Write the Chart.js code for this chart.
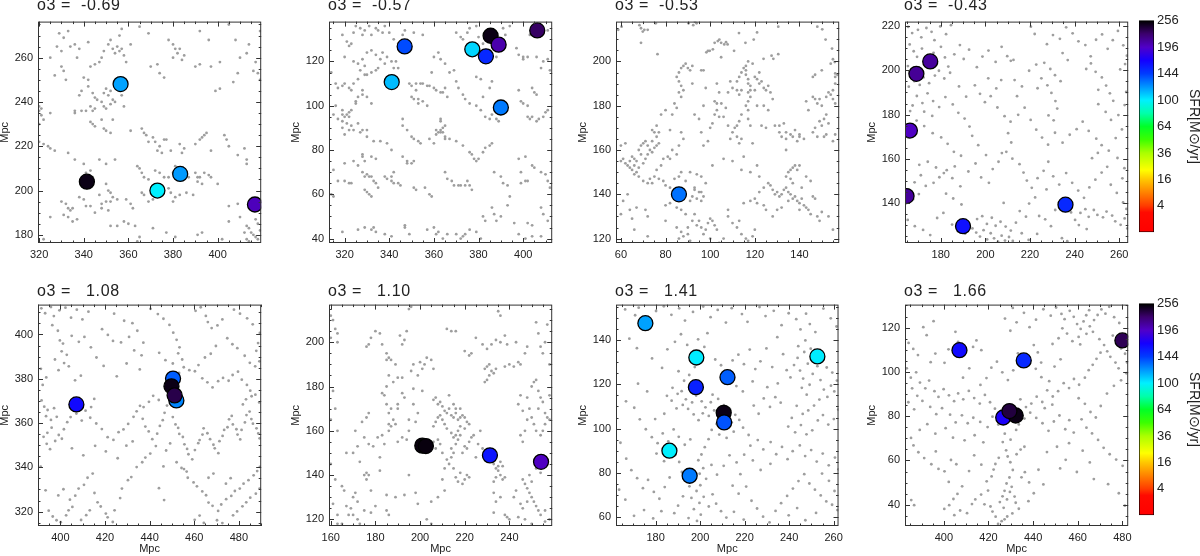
<!DOCTYPE html>
<html>
<head>
<meta charset="utf-8">
<script src="https://cdn.jsdelivr.net/npm/chart.js@4.4.1/dist/chart.umd.min.js"></script>
<style>
  body { margin: 0; background: #fff; width: 1200px; height: 556px; overflow: hidden; position: relative; }
  .box { position: absolute; }
  .ttl { position: absolute; font: 16px "Liberation Sans", Arial, sans-serif; letter-spacing: 0.6px; color: #222; white-space: pre; line-height: 16px; }
</style>
</head>
<body>
<script>
// panel labels and axis windows (Mpc)
const o3Labels = ['o3 =  -0.69', 'o3 =  -0.57', 'o3 =  -0.53', 'o3 =  -0.43', 'o3 =   1.08', 'o3 =   1.10', 'o3 =   1.41', 'o3 =   1.66'];
const xMins = [319.5, 313, 57.8, 164, 390, 159.2, 162.2, 382.6];
const yMins = [176.3, 38, 118, 122, 313.5, 117, 56, 30.4];
const xTicks = [
  [320, 340, 360, 380, 400], [320, 340, 360, 380, 400], [60, 80, 100, 120, 140], [180, 200, 220, 240, 260],
  [400, 420, 440, 460, 480], [160, 180, 200, 220, 240], [180, 200, 220, 240, 260], [400, 420, 440, 460, 480]
];
const yTicks = [
  [180, 200, 220, 240, 260], [40, 60, 80, 100, 120], [120, 140, 160, 180, 200], [140, 160, 180, 200, 220],
  [320, 340, 360, 380, 400], [120, 140, 160, 180, 200], [60, 80, 100, 120, 140], [40, 60, 80, 100, 120]
];
const sfrTicks = [4, 16, 36, 64, 100, 144, 196, 256];

// big galaxies (x, y) and their SFR
const gal1 = [[356.5,248.1],[341.4,204],[373,200],[383.2,207.5],[416.7,193.7]];
const sfr1 = [118, 250, 100, 120, 200];
const gal2 = [[346.9,126.8],[341.1,110.7],[377.2,125.5],[383.3,122.3],[385.4,131.6],[389,127.6],[406.3,134],[390,99.2]];
const sfr2 = [140, 112, 106, 152, 250, 205, 228, 128];
const gal3 = [[86,140]];
const sfr3 = [130];
const gal4 = [[175.3,204],[169.1,198.4],[166.2,172.8],[164.7,143.2],[190,129.6],[235.9,139.3]];
const sfr4 = [210, 212, 198, 210, 162, 152];
const gal5 = [[407.2,368.4],[450.5,380.1],[449.8,376.6],[452,370.2],[451.2,372.5]];
const sfr5 = [165, 135, 250, 125, 235];
const gal6 = [[201,153.3],[202.6,153.1],[231.3,148.9],[254.2,146]];
const sfr6 = [252, 252, 160, 198];
const gal7 = [[175.4,147.6],[198.3,132.1],[252.7,132.6],[212.3,123.2],[198.1,118.7],[210.6,107.1],[210.8,102.8],[186.2,90],[195.3,78.7]];
const sfr7 = [118, 101, 101, 135, 155, 250, 138, 100, 128];
const gal8 = [[407,109.8],[435.8,105.2],[480,114.2],[426.6,79.4],[432.2,80.3],[429.4,82.3]];
const sfr8 = [165, 152, 232, 172, 250, 238];

// small neighbour galaxies (x, y)
const gray1 = [[329,271],[331,269],[333,272],[328,265],[330,263],[334,265],[336,266],[338,264],[342,267],[325,260],[337,260],[351,266],[352,268],[353,264],[354,262],[355,265],[356,263],[357,264],[358,261],[349,263],[348,260],[357,273],[356,270],[359,258],[361,266],[365,274],[369,271],[378,268],[380,266],[381,264],[383,264],[382,262],[385,261],[384,259],[380,260],[392,272],[396,268],[392,257],[390,256],[397,256],[401,258],[405,275],[408,268],[410,260],[413,262],[414,266],[417,258],[419,272],[409,253],[416,254],[418,253],[419,250],[407,249],[401,246],[399,245],[373,257],[370,256],[374,253],[376,251],
[330,256],[331,254],[332,250],[327,252],[340,251],[342,250],[343,256],[345,257],[347,258],[339,245],[338,243],[342,247],[344,244],[345,242],[346,241],[348,240],[349,244],[350,246],[351,243],[352,245],[353,241],[349,238],[350,237],[352,239],[354,240],[345,237],[344,236],[343,238],[356,245],[357,243],[358,238],[336,235],
[320,238],[321,237],[320,236],[321,234],[322,232],[320,230],[325,235],[336,236],[339,236],[341,236],[343,231],[344,230],[345,229],[348,232],[349,228],[350,227],[352,226],[353,232],
[320,222],[322,221],[324,220],[325,219],[327,218],[333,217],[336,214],[340,212],[341,208],[342,207],[343,209],[344,206],
[361,227],[366,228],[367,226],[368,225],[369,222],[371,224],[372,222],[374,220],[373,218],[375,217],[376,223],[377,223],[379,218],[383,221],[384,217],[385,219],[390,221],[392,223],[393,224],[394,225],[395,226],[397,218],[403,225],[404,223],[405,220],[409,216],[412,219],[413,214],[413,212],
[347,214],[350,212],[354,214],[364,211],[365,210],[366,208],[367,206],[369,205],[372,209],[374,208],[376,206],[378,206],[380,208],[381,211],[382,209],[384,210],[386,207],[387,206],[390,208],[391,206],[392,206],[394,208],[396,207],[397,206],[391,204],[393,203],[400,203],
[350,203],[351,200],[352,199],[353,197],[352,195],[350,195],[347,198],[348,194],[355,196],[359,196],[361,194],[362,192],[366,199],[367,198],[369,195],[371,196],[378,201],[379,199],[381,197],[383,198],[380,195],[386,199],[389,198],[405,193],[330,195],[332,194],[333,192],[334,191],[335,192],[338,197],[340,196],[341,193],[343,193],[331,189],[333,188],[335,186],[337,187],[325,188],[345,190],[348,192],[351,191],
[358,186],[360,185],[363,184],[371,183],[377,181],[381,179],[391,180],[393,181],[405,186],[409,194],[410,188],[413,184],[414,183],[415,181],[416,180],[417,179],[418,178],[419,182],[418,185],[417,187],[412,181],[413,178],[414,177],[415,176],[319,180],[322,178],[352,184],[355,184],[364,177],[365,179],[402,178]];

const gray2 = [[319,132],[321,129],[322,127],[323,128],[324,133],[325,136],[327,135],[328,132],[329,134],[331,136],[332,132],[334,135],[335,134],[337,133],[338,136],[340,133],[342,130],[344,128],[346,132],[347,134],[351,133],[355,132],
[320,122],[324,120],[326,119],[328,121],[329,118],[330,124],[332,125],[334,123],[336,121],[337,124],[338,119],[339,122],[341,120],[342,117],[343,120],[344,117],
[314,115],[316,110],[317,108],[319,109],[320,110],[322,108],[323,107],[324,110],[326,112],[327,116],[329,114],[330,114],[332,115],[334,116],[335,117],
[319,98],[319,96],[320,95],[321,96],[322,97],[322,95],[323,98],[325,101],[325,102],[326,104],[328,105],[328,107],[330,104],[332,101],
[316,100],[315,96],[317,94],[319,93],[321,92],[323,91],[324,89],[326,92],[328,89],[330,89],
[349,110],[350,109],[352,107],[352,110],[354,110],[355,110],[357,109],[358,109],[360,108],[361,107],[363,106],[364,106],[365,108],[366,104],
[350,104],[351,103],[353,101],[353,103],[355,102],[357,100],
[370,111],[371,108],[373,105],[374,103],[376,101],[379,100],[381,98],[383,95],[385,94],[386,96],[388,94],[389,93],[382,104],[385,108],[386,111],[381,112],[379,113],
[398,107],[399,102],[400,101],[402,100],[402,95],[403,94],[404,95],[406,93],[407,94],[409,95],[410,97],[411,98],[404,108],[405,106],[406,105],[408,117],[409,120],[411,121],[412,116],[406,122],[402,122],[400,121],
[370,133],[372,131],[373,130],[375,133],[376,135],[379,136],[380,131],[382,128],[385,125],[388,122],[392,132],[397,126],[398,123],[400,122],[403,132],[406,134],[408,136],[411,134],[394,136],[391,135],
[360,122],[362,124],[363,121],[359,115],[365,119],[369,116],[367,115],
[319,90],[320,87],[322,89],[327,88],[330,86],[333,84],[332,77],[334,76],[336,84],[339,83],[341,80],[346,94],[346,91],[348,89],[350,86],[351,85],[353,84],[354,83],[358,85],[360,83],[361,87],[363,89],[363,88],[365,85],
[361,89],[362,88],[364,88],[364,90],[365,86],[367,85],[370,84],[373,82],[376,79],[377,78],[378,76],[379,75],[380,76],[382,79],[383,81],[385,82],[386,83],
[346,77],[348,75],[348,74],[350,74],[351,75],[328,78],[328,77],[329,75],[330,69],[331,68],
[320,66],[322,65],[323,65],[328,70],[329,68],[332,68],[333,66],[334,65],[335,63],[338,68],[339,67],[341,66],[342,65],[344,65],[345,64],[341,68],[342,70],
[314,60],[315,59],[329,62],[330,61],[331,60],[332,59],
[351,63],[352,62],[356,63],[358,60],[359,59],[365,70],[366,67],[368,66],[369,64],[371,64],[372,64],[374,64],[375,66],[376,64],[377,62],
[387,70],[390,68],[391,65],[393,64],[386,54],[387,51],[388,48],[390,50],[393,55],[394,59],[399,65],[401,66],[402,66],[399,70],[398,76],[401,77],[404,73],[405,72],[408,70],[410,69],[411,66],[412,63],[408,54],[409,51],[411,48],[402,47],[404,46],[396,47],[398,42],[401,40],[404,41],[408,41],
[319,43],[326,44],[329,45],[332,44],[333,45],[334,43],[338,42],[341,41],[347,46],[347,45],[349,42],[357,44],[360,45],[361,42],[362,43],[364,40],[366,42],[370,42],[372,40],[373,41],[374,42],[376,44],[379,43],[381,40],[382,50],[383,48],
[363,93],[363,94],[365,91],[315,71],[317,66],[320,74],[324,75],[326,73]];

const gray3 = [[58.8,214.3],[60.3,215.7],[68.3,216.4],[69,215],[69.8,213.5],[70.5,214.3],[72,214.3],[69,208.4],[76.4,203.3],[75.6,217.2],[90.3,217.2],[92.4,216.4],[93.2,217.9],[93.9,217.2],[102,208.4],[103.4,209.2],[104.1,209.9],[104.9,208.4],[106.3,207.7],[107.1,208.7],[107.8,207.7],[98.3,204.1],[99,204.8],[99.8,204.8],[101.2,205.5],[104.9,201.9],[112.9,212.8],[115.8,208.4],[121,213.1],[130.5,215.7],[148,215.7],[150.2,214.5],[151.7,209.9],[154.6,205.8],[155.8,199.7],[156,194.6],[127.5,202.6],[128.3,201.2],[130.5,203.3],[123.9,201.2],[119.5,209.9],[110.7,204.8],
[87,197],[88,198],[89,199],[90,197],[91,196],[86,195],[85,193],[86,191],[87,189],[88,187],[86,186],[87,184],[84,181],[85,179],[83,176],[80,178],[82,169],[76,171],[78,176],[92,198],[96,196],[97,196],[92,190],
[60,155],[61,156],[62,154],[63,153],[64,155],[65,157],[66,156],[67,155],[64,152],[65,151],[66,153],[67,150],[66,149],[68,152],[69,158],[68,160],[69,162],[70,163],[71,164],[72,162],[73,160],[74,159],[75,161],[76,162],[77,163],[74,164],[72,158],[71,156],[70,154],[68,148],[70,146],[72,145],[73,147],[74,145],[75,148],[77,147],[79,146],[80,144],[82,143],[76,151],[78,153],[79,156],[81,157],[83,160],[82,156],[85,158],[86,162],[87,168],[88,165],[63,140],[61,137],[64,133],[60,131],[67,134],[71,133],[65,129],[76,166],[74,169],[75,168],[77,168],[60,162],[62,163],
[84,147],[86,148],[87,150],[89,146],[91,150],[94,149],[96,148],[98,145],[93,142],[95,141],
[100,170],[101,172],[102,176],[103,178],[104,175],[103,181],[102,182],[105,181],[107,179],[106,175],[108,171],[110,168],[111,170],[112,166],[113,163],[114,165],[109,165],[99,164],[97,162],[96,168],[95,174],[93,176],[97,180],[104,186],[98,188],[103,190],[108,186],[110,188],[114,187],
[112,191],[113,193],[114,195],[115,197],[116,196],[116,194],[117,192],[117,190],[118,189],[118,187],[117,186],[118,184],[117,182],[116,180],[117,178],[114,176],[113,173],[112,171],[117,174],[118,171],[119,199],[117,200],[116,198],[120,193],[121,192],[122,190],[123,191],[124,188],[125,187],[126,189],[127,186],[128,183],[122,195],[120,187],[124,180],[126,178],[121,180],[113,185],[109,191],[112,187],
[123,171],[125,170],[129,171],[131,171],[133,172],[131,168],[132,166],[134,168],[136,167],[134,165],[138,169],[140,167],
[146,193],[147,194],[150,196],[154,199],[155,201],[156,193],[157,194],[156,190],[155,187],[146,184],[147,183],[148,181],[149,183],[150,180],[152,184],[153,186],[154,185],[155,183],[156,181],[152,176],[151,174],[153,172],[150,171],[149,173],[147,170],[146,168],[148,166],[151,166],[152,167],[155,164],[156,167],[143,182],[144,178],[140,166],[142,165],[137,166],[139,164],[134,160],
[101,153],[106,156],[110,155],[115,157],[121,153],[119,163],[114,151],[118,150],[122,148],[127,144],[128,142],[129,140],[130,141],[131,139],[132,140],[133,142],[134,143],[135,141],[136,140],[137,138],[138,139],[139,137],[140,136],[141,138],[134,148],[135,150],[136,151],[137,152],[138,153],[139,151],[140,153],[137,145],[136,147],[141,143],[143,148],[145,146],[146,139],[147,138],[142,135],[143,134],[144,133],[140,133],[135,137],[132,134],[130,133],[128,130],[125,133],[124,135],[121,136],[120,138],[118,137],[115,136],[122,141],[124,143],[126,145],[145,131],[148,130],[149,128],[150,132],[153,130],[155,124],
[91,137],[92,139],[93,143],[94,138],[96,141],[96,137],[97,139],[93,131],[92,128],[94,126],[95,128],[96,125],[97,122],[98,124],[99,127],[100,129],[101,128],[102,126],[103,124],[85,134],[87,133],[89,131],[82,136],[80,135],[85,125],[87,123],[88,121],[90,122],[91,119],[90,125],[86,120],[108,133],[108,130],[110,127],[112,125],[113,128],[114,122],[116,120],[117,119],[119,121],[120,124],[106,120],[104,118],[100,120],[66,124],[72,121],[80,128],[72,130]];

const gray4 = [[165.4,219.6],[167.2,216.8],[169.8,218.3],[171.3,214.9],[173.6,219.1],[175.9,217.4],[177.2,213.6],[179.8,219.8],[182.4,216.3],[184.6,220.4],[166.1,211.7],[167.9,208.6],[169.4,206.1],[171.6,209.8],[173.2,205.4],[174.7,202.6],[176.8,207.9],[178.3,203.1],[180.1,210.6],[181.9,205.8],[183.4,201.7],[165.3,201.9],[166.8,198.3],[168.2,195.1],[165.7,192.6],[170.6,193.4],[172.3,196.8],[174.8,194.2],[177.4,197.6],[179.2,199.8],[181.6,196.3],[184.2,198.9],[186.1,207.2],[188.6,211.4],[190.3,205.1],[192.7,209.3],[169.3,188.4],[171.8,185.2],[174.1,189.6],[176.6,186.1],[179.3,183.4],[182.1,187.9],[185.4,184.6],[187.9,180.8],[167.4,184.1],[172.6,181.3],[176.2,179.4],
[196.2,201.4],[198.7,206.2],[201.4,208.9],[204.6,203.8],[207.3,210.6],[209.8,206.4],[212.6,204.7],[195.3,193.2],[197.6,189.4],[199.8,185.6],[202.4,188.3],[204.9,191.8],[207.1,195.6],[201.3,196.4],[188.2,192.7],[191.4,188.1],[214.2,188.3],[216.4,192.7],[219.6,199.8],[222.8,202.6],[225.1,196.4],[223.4,191.9],[227.8,193.2],
[220.4,219.7],[222.1,216.4],[227.6,211.8],[230.3,215.9],[233.4,214.2],[236.2,219.4],[239.1,216.7],[241.7,213.1],[244.8,211.4],[247.2,206.3],[249.6,213.8],[252.3,216.2],[254.8,209.7],[257.1,213.6],[259.4,217.8],[261.8,211.3],[263.4,206.6],[234.6,207.8],[236.9,204.6],[226.4,203.4],[229.1,200.6],[231.2,197.8],[233.7,195.1],[229.6,189.8],[231.4,186.1],[232.2,182.7],[228.3,179.6],[230.6,177.4],[249.4,199.3],[252.2,196.8],[254.1,193.1],[255.8,189.6],[257.3,186.2],[250.6,191.2],[260.4,200.4],[262.6,202.8],[245.2,200.6],[247.3,203.1],[211.4,204.3],[213.1,195.6],
[205.4,183.2],[208.6,179.3],[211.3,176.8],[214.7,179.9],[217.6,183.1],[220.3,177.6],[222.8,173.2],[225.4,169.6],[228.1,166.4],[231.2,171.8],[234.6,167.3],[237.8,170.9],[240.9,173.4],[243.6,176.8],[246.3,172.6],[249.7,169.1],[252.1,166.2],[255.3,163.7],[258.4,169.4],[261.2,173.3],[250.6,184.7],[253.9,181.2],[256.3,177.6],[259.6,179.8],[262.4,184.3],[263.1,190.2],[210.2,171.6],[211.6,167.4],[209.4,163.2],[212.1,160.1],[215.3,157.6],[217.1,153.8],[218.6,150.2],[220.8,146.9],[223.4,151.3],[226.1,154.6],[228.2,158.7],[230.4,152.1],[233.1,148.4],[236.2,153.6],[238.9,149.2],[241.6,145.7],[244.2,142.4],[246.6,147.1],[249.3,150.6],[252.1,153.8],[254.6,156.4],[256.2,148.3],[258.9,144.6],[261.7,140.3],[263.2,137.4],[261.4,151.2],[262.3,155.8],[259.2,160.4],[247.8,160.3],[250.4,162.7],
[166.3,181.6],[169.2,177.3],[172.6,174.8],[176.4,171.6],[180.2,169.7],[183.1,166.8],[185.9,163.2],[189.1,161.4],[186.3,156.6],[182.7,154.9],[179.4,151.7],[176.8,149.2],[173.3,147.8],[170.2,144.1],[167.6,141.7],[165.4,146.2],[168.3,149.4],[171.1,152.6],[170.4,157.3],[174.2,158.7],[177.9,156.1],[181.4,153.6],[185.2,151.3],[188.8,147.6],[192.4,154.3],[195.6,157.9],[198.1,151.6],[201.6,149.2],[203.3,155.4],[205.9,158.7],[207.4,162.6],[200.3,161.7],[196.8,166.2],[194.1,170.4],[192.9,174.6],[190.7,178.2],
[165.2,132.4],[168.4,129.6],[172.1,127.9],[175.3,125.6],[178.4,133.3],[181.2,135.6],[185.1,130.3],[187.6,127.4],[190.9,126.2],[192.4,131.4],[194.2,128.6],[195.9,126.7],[197.6,124.9],[199.2,127.8],[200.8,123.6],[202.4,126.4],[203.9,124.1],[205.7,122.6],[207.3,125.3],[208.8,123.1],[210.6,124.7],[212.3,122.9],[196.3,132.8],[198.6,134.1],[200.7,130.6],[202.9,133.4],[204.6,129.8],[206.8,131.6],[209.1,129.4],[211.4,127.6],[213.7,131.2],[215.4,136.4],[218.2,133.9],[219.6,139.8],[222.3,142.6],[224.1,134.2],[226.8,132.7],[229.4,129.6],[231.3,136.9],[233.2,140.3],[237.6,141.2],[238.4,135.8],[240.2,132.4],[241.9,130.1],[242.6,135.6],[244.8,137.3],[246.3,133.8],[248.6,136.9],[250.2,134.7],[252.7,133.6],[254.3,136.2],[256.8,134.4],[258.2,131.8],[260.6,130.2],[262.4,133.1],[263.6,128.6],[234.3,124.2],[236.7,122.8],[245.4,128.3],[223.2,126.1],[219.4,123.4],[189.3,139.4],[185.6,142.1],[182.4,144.3],[208.2,140.1],[216.3,126.4],[227.4,146.2]];

const gray5 = [[391.5,411.8],[393.2,409.6],[395.8,412.4],[397.1,408.3],[399.6,410.9],[402.3,412.1],[404.8,407.6],[407.4,411.2],[409.9,406.8],[412.6,410.3],[396.4,404.2],[398.9,401.7],[399.8,397.3],[401.2,395.9],[400.6,392.4],[402.9,390.8],[401.7,387.1],[403.8,385.6],[399.2,383.9],[397.6,388.7],[405.1,399.4],[408.3,396.7],[410.8,398.9],[413.7,394.2],[416.2,389.6],[419.4,385.8],[406.6,379.3],[409.2,381.4],[393.7,380.6],[392.1,377.2],[391.3,384.5],
[418.7,402.4],[421.3,399.8],[423.6,397.1],[427.2,396.4],[430.8,398.9],[434.5,401.7],[437.2,396.3],[424.1,409.4],[428.6,406.2],[432.3,405.1],[436.4,390.6],[433.1,392.8],[435.6,384.2],[429.7,386.9],[425.3,381.1],
[440.4,411.6],[443.7,409.2],[446.2,407.1],[448.9,404.3],[450.6,400.8],[452.1,397.6],[453.4,394.2],[452.8,391.5],[454.6,388.7],[455.3,385.2],[453.2,382.6],[450.4,386.9],[447.1,388.4],[444.3,391.7],[457.8,383.9],
[460.6,410.7],[462.9,412.3],[465.2,408.4],[466.1,405.6],[467.8,402.9],[470.4,404.1],[472.6,406.8],[474.8,398.3],[477.1,395.6],[479.3,393.8],[482.6,390.4],[484.9,387.2],[487.3,385.6],[489.2,387.9],[487.8,392.6],[488.6,396.1],[489.4,400.7],[486.2,404.6],[483.7,407.3],[480.5,409.4],[477.8,411.2],[469.7,394.8],[467.4,391.3],[464.8,389.6],[461.9,386.2],[460.3,383.4],[463.6,380.2],[465.9,378.4],[468.2,376.1],[470.7,378.9],[472.9,380.4],[475.4,379.1],[477.2,381.7],[479.6,383.2],[481.3,379.6],[483.6,377.2],[485.1,374.6],[487.4,372.8],[489.1,369.3],
[391.6,370.2],[392.8,367.4],[394.3,365.9],[393.6,363.1],[395.8,361.4],[397.2,366.7],[398.4,362.8],[396.1,357.9],[394.2,355.6],[392.5,353.8],[393.9,350.6],[395.4,348.2],[397.7,351.9],[399.3,354.6],[401.6,357.2],[403.1,360.4],[404.6,362.7],[407.2,364.3],[409.6,361.1],[411.3,365.6],[413.8,367.2],[415.2,370.9],[413.4,362.4],[416.1,359.8],[418.6,357.3],[421.2,353.6],[423.8,352.4],[426.1,355.9],[428.3,357.1],[430.4,359.6],[432.8,362.8],[434.2,365.3],[435.7,367.8],[436.9,361.9],[438.1,358.4],[439.6,356.2],[441.2,352.7],[442.8,349.6],[443.4,355.2],[444.6,358.7],[445.9,361.3],[446.7,364.6],[447.8,367.9],[444.1,370.4],[441.6,372.3],[439.7,369.6],[437.3,367.2],
[450.4,362.7],[451.6,359.4],[452.8,357.8],[453.3,355.1],[454.9,353.7],[455.6,350.4],[456.8,348.3],[457.4,345.9],[459.1,343.6],[460.3,347.8],[461.8,350.9],[462.4,352.3],[463.7,354.8],[464.2,357.6],[465.9,355.4],[467.1,352.7],[468.6,350.2],[469.2,348.6],[470.8,346.4],[471.3,351.8],[472.7,354.2],[473.4,356.9],[474.9,358.1],[475.6,361.7],[476.8,363.2],[477.3,359.4],[478.9,357.2],[479.4,354.8],[480.6,352.6],[481.2,356.9],[482.7,360.3],[483.4,363.6],[484.8,365.2],[485.6,361.8],[486.3,359.7],[487.9,357.6],[488.7,355.3],[489.3,353.1],[481.8,368.4],[483.2,370.7],[485.7,372.1],
[420.4,347.2],[425.7,344.1],[429.6,349.8],[432.4,351.7],[410.3,345.4],[405.2,348.6],[400.7,352.9],[415.6,349.7],[449.2,350.8],[447.4,347.6],[452.1,342.3],[454.3,339.7],[456.6,338.1],[446.2,340.4],
[391.2,340.3],[393.4,329.6],[394.8,320.4],[396.6,317.8],[398.3,316.1],[400.2,315.2],[402.6,318.3],[403.7,320.6],[405.4,322.1],[404.3,325.4],[406.7,327.2],[408.2,330.4],[410.6,332.1],[412.2,335.3],[414.5,337.2],[415.3,328.4],[416.7,324.2],[418.1,322.3],[420.4,319.1],[421.2,317.4],[423.5,315.3],[424.3,320.6],[426.8,326.1],[427.6,330.4],[430.3,334.2],[431.8,335.6],[434.2,340.1],[436.7,342.3],[438.1,344.4],[440.3,346.2],
[455.4,339.2],[457.1,335.3],[459.7,333.2],[461.2,331.4],[463.6,329.1],[465.3,327.4],[466.4,324.1],[468.2,322.6],[470.7,320.3],[472.1,323.2],[474.3,325.6],[476.6,327.1],[478.2,329.3],[480.4,330.4],[482.1,332.6],[484.3,334.2],[486.6,336.4],[488.2,338.3],[489.4,340.2],[460.2,316.3],[462.4,318.2],[464.3,314.9],[470.2,316.1],[472.6,314.8],[477.4,318.3],[479.2,320.1],[481.6,322.4],[483.3,324.2],[485.1,326.3],[487.6,328.1],[489.3,330.4],[474.2,332.6],[476.3,335.1],[468.6,337.2],[466.4,335.3],[409.3,316.2],[411.6,318.4],[413.2,320.6],[399.1,327.3],[401.4,330.1],[444.2,330.6],[446.5,325.2]];

const gray6 = [[160,212],[161,210],[162,206],[163,204],[163,200],[160,202],[178,202],[180,205],[182,204],[183,199],[176,198],[177,199],[185,195],[186,193],[187,192],[185,192],[189,190],[191,203],[192,199],[193,201],[194,205],[195,215],[196,216],[200,191],[202,190],[203,193],[205,192],[206,188],[201,178],[212,206],[214,205],[216,205],[220,196],[222,194],[223,195],[225,202],[228,199],[230,197],[232,199],[234,201],[236,200],[238,203],[235,214],[236,212],[239,199],[243,200],[244,191],[245,190],[247,195],[248,198],[252,209],[254,198],[255,195],[256,200],[257,208],[253,204],[258,190],[258,176],
[229,188],[230,189],[231,190],[232,187],[233,186],[234,188],[231,185],[230,183],[229,182],[238,189],[240,190],[242,189],
[161,178],[162,170],[160,165],[163,160],[170,150],[174,164],[176,166],[177,168],[175,157],[177,154],[179,153],[181,157],[183,158],[186,160],[187,162],[189,163],[188,165],[190,170],[187,170],[185,172],[186,168],[192,177],[193,175],[197,172],[199,168],[198,164],[195,160],[194,156],[192,157],[190,155],[184,154],[182,148],[177,140],[176,141],[172,153],[173,146],[171,160],
[185,180],[186,185],[188,182],[190,184],[192,184],[196,187],[197,190],[199,185],[201,188],
[206,174],[207,175],[208,172],[209,173],[210,171],[211,169],[212,168],[213,170],[214,167],[215,166],[216,168],[217,165],[218,166],[219,167],[220,166],[221,164],[222,163],[220,161],[218,162],[217,160],[216,158],[215,157],[214,159],[212,161],[211,163],[210,165],[209,167],[208,166],[207,164],[206,162],[215,172],[216,170],[218,170],[213,176],[214,152],[215,150],[216,154],[217,156],[218,158],[219,150],[220,153],[221,152],[222,155],[223,157],[224,158],[226,154],[228,152],[229,150],[230,148],[225,148],[227,160],[206,155],[207,152],[208,156],[209,154],[210,150],[212,147],[213,145],[214,148],[211,143],[215,143],[216,139],[217,137],[218,141],[219,136],[220,138],[221,140],[222,139],
[233,145],[234,143],[235,142],[236,140],[237,138],[235,144],[236,146],[237,144],[238,139],[234,139],[233,137],[238,122],[239,121],[240,120],[233,123],[234,128],[236,130],[233,132],
[245,158],[246,155],[247,160],[248,165],[249,170],[248,175],[245,176],[244,172],[246,169],[250,180],[251,182],[252,183],[253,178],[254,175],[255,173],[256,168],[257,166],[256,163],[255,160],[254,158],[252,160],[251,163],[250,166],[253,170],[258,165],[246,138],[247,136],[248,134],[249,132],[250,130],[251,128],[252,126],[253,124],[254,122],[249,140],[248,128],[246,125],[245,127],[244,121],[247,120],[250,118],[256,119],[256,124],[258,120],[243,133],[242,130],[250,137],[252,143],[254,141],
[161,127],[163,122],[165,135],[166,133],[167,126],[169,125],[170,130],[171,132],[172,128],[170,122],[172,120],[173,118],[175,140],[176,138],[175,124],[178,123],[180,126],[185,131],[185,124],[186,122],[178,133],[182,142],[189,130],[193,131],[195,140],[198,132],[199,127],[203,120],[205,118],[168,122],[165,118],[163,118],[162,138],[160,145],[167,150],
[186,163],[184,176],[183,177],[190,172],[195,165],[197,179],[205,128],[208,130],[210,138],[211,133]];

const gray7 = [[166.3,153.8],[170.8,151.2],[172.4,154.6],[176.9,149.7],[180.2,153.1],[183.7,155.2],[187.1,151.4],[190.6,154.3],[193.2,148.8],[196.8,152.7],[201.4,155.1],[204.7,150.3],[207.9,153.6],[211.6,147.9],[214.2,154.4],[218.8,151.7],[221.3,148.2],[226.7,154.9],[229.4,150.8],[233.1,153.2],[236.6,146.7],[239.8,152.1],[243.2,149.4],[245.1,144.8],[247.6,151.9],[249.3,147.2],[251.8,143.6],[255.4,154.2],[258.7,149.8],[261.3,146.1],
[168.2,140.6],[171.6,136.3],[178.4,131.7],[182.9,127.4],[185.3,135.8],[188.7,139.2],[191.4,142.6],[194.2,137.8],[196.7,134.1],[199.1,140.3],[201.9,136.9],[203.3,143.1],[197.6,127.8],[195.1,124.2],[192.8,121.6],[190.3,125.9],[187.6,118.4],[189.9,115.7],[193.6,113.2],[196.4,111.8],[198.2,114.9],[200.7,112.3],[202.4,109.6],[204.8,111.9],[206.3,108.2],[203.9,105.7],[201.2,106.9],[199.3,103.8],[197.1,106.4],[194.6,108.9],[192.2,110.7],[189.4,109.1],[187.2,112.6],[185.1,114.8],[191.7,116.9],[195.9,118.3],[200.3,118.9],[205.6,115.3],[208.1,113.4],[210.7,110.6],[213.4,108.9],[215.8,106.2],[217.6,103.9],[214.2,102.8],[211.8,104.6],[207.4,102.1],[205.2,99.4],[208.6,97.3],[211.9,95.8],[215.1,98.6],[219.3,100.4],[221.8,97.1],
[206.8,131.2],[209.4,128.6],[212.1,126.3],[214.6,130.8],[217.2,133.4],[219.7,129.1],[222.3,135.7],[224.8,126.9],[209.6,122.4],[216.3,119.2],[219.2,116.8],[223.6,121.3],[227.1,130.4],[229.8,136.2],[232.4,127.8],[234.7,141.3],[237.3,133.6],
[238.9,126.4],[240.6,123.1],[242.2,128.7],[243.8,131.9],[244.9,126.2],[246.3,122.6],[245.7,118.4],[247.9,115.3],[249.2,119.8],[250.6,124.7],[248.4,129.3],[246.8,134.6],[244.1,137.2],[247.3,139.8],[249.7,136.1],[251.3,132.4],[252.7,128.2],[254.1,121.9],[255.6,117.6],[257.2,114.3],[258.8,119.4],[260.3,116.8],[261.5,121.7],[259.4,125.3],[256.9,127.6],[253.6,113.1],[251.2,110.4],[248.6,108.2],[246.1,106.6],[243.4,110.3],[241.2,104.8],[239.6,100.9],[242.7,98.3],[245.3,101.6],[247.8,97.4],[250.4,99.2],[252.9,103.7],[255.2,106.1],[257.6,101.8],[260.1,104.3],[262.1,108.6],[236.2,111.7],[233.8,114.2],[231.4,109.8],[228.6,113.6],[226.3,106.7],[224.1,110.4],[230.2,118.7],[234.9,120.4],
[166.7,112.3],[170.4,109.4],[172.9,104.2],[175.6,99.7],[178.3,96.1],[180.9,93.4],[183.2,97.8],[185.7,94.2],[188.1,99.6],[190.4,96.3],[193.1,92.7],[195.6,95.1],[179.8,104.3],[183.9,106.7],[176.2,116.8],[172.1,120.3],
[222.6,92.3],[225.9,94.8],[228.4,90.6],[231.7,93.9],[234.2,88.4],[236.8,91.7],[239.3,86.2],[241.6,89.8],[244.8,92.4],[247.2,87.6],[249.9,90.3],[252.4,85.1],[255.1,88.7],[257.8,83.4],[260.6,86.9],[262.2,81.6],[231.6,84.1],[227.2,81.3],[223.7,85.6],[219.8,88.2],[216.4,84.7],[213.2,87.9],[210.6,83.2],[218.1,79.4],
[203.8,95.2],[202.1,91.6],[200.6,88.3],[199.2,85.7],[201.4,82.1],[199.8,79.6],[202.7,77.3],[200.1,74.4],[198.4,71.8],[201.6,69.2],[199.7,66.4],[197.2,63.6],[200.3,61.1],[198.6,58.3],[196.1,68.7],[195.2,73.9],[193.4,77.2],[191.8,80.4],[190.6,84.9],[188.9,88.1],[192.3,69.4],[190.1,65.2],[188.4,61.8],[194.8,59.6],[203.9,64.8],[205.6,70.3],[207.2,66.1],[209.4,62.7],[211.8,59.8],[205.1,83.6],[207.6,79.2],
[164.2,93.6],[166.8,86.4],[169.1,81.2],[171.7,77.6],[174.3,73.1],[176.6,76.8],[179.2,71.4],[181.7,68.3],[184.1,73.6],[186.3,77.9],[182.6,62.7],[178.9,59.4],[174.8,63.2],[170.3,60.6],[166.4,67.9],[163.6,72.4],[183.8,85.3],[180.4,88.7],
[214.6,74.2],[217.3,70.6],[220.7,73.8],[223.1,67.4],[225.6,63.9],[228.3,60.2],[231.2,57.6],[233.9,62.8],[236.4,66.3],[239.1,69.6],[241.7,72.9],[244.2,76.3],[246.8,79.4],[249.1,75.2],[251.6,72.4],[254.2,69.8],[256.7,67.1],[259.3,65.6],[261.7,63.2],[260.4,71.8],[257.9,76.4],[254.8,79.7],[243.6,64.1],[239.8,60.8],[247.3,58.6],[252.1,61.9],[219.6,58.9],[215.2,62.4]];

const gray8 = [[444.6,128.3],[447.9,125.4],[450.3,129.1],[452.7,126.2],[454.1,123.8],[456.4,127.6],[458.2,124.9],[459.7,121.6],[461.3,119.4],[462.6,122.8],[463.9,117.2],[465.4,120.6],[466.8,118.1],[467.3,123.4],[468.9,125.7],[470.6,128.2],[472.4,126.3],[474.1,129.4],[476.3,124.7],[478.6,122.1],[460.4,115.8],[457.6,113.9],[455.2,117.3],[453.1,119.7],[451.4,115.2],[448.7,112.6],[463.8,125.6],[465.1,127.9],[461.1,112.4],[469.7,114.8],[471.8,112.1],[473.2,109.3],[474.6,106.8],[476.9,104.2],[478.3,101.6],[470.2,108.7],[468.4,105.9],[466.7,103.2],[464.9,100.8],[463.2,97.4],[479.4,110.6],[481.2,108.2],[482.1,104.3],[475.7,116.4],[477.8,113.9],
[441.3,123.6],[438.4,120.2],[435.9,126.7],[432.6,122.4],[429.8,118.6],[427.4,124.1],[430.9,128.9],
[460.6,94.2],[458.3,96.8],[456.1,92.7],[453.7,94.9],[451.2,91.3],[448.8,88.9],[446.3,91.7],[444.1,86.4],[441.6,88.8],[439.2,85.7],[436.8,84.1],[434.3,87.6],[447.2,95.8],[443.7,97.6],[441.2,101.4],[443.6,104.2],[442.1,108.8],[440.3,112.1],[438.1,106.6],[435.4,103.3],[433.2,108.4],[431.1,100.7],[428.7,96.3],[426.2,99.8],[423.8,104.6],[421.3,101.9],[419.1,97.2],[416.4,94.1],[449.6,102.4],[452.3,105.7],
[383.4,101.6],[385.2,97.4],[387.6,99.8],[389.3,95.2],[391.7,92.6],[393.4,96.1],[395.8,91.3],[397.6,88.7],[399.9,92.2],[402.3,89.4],[404.6,86.8],[406.4,90.3],[408.7,87.6],[411.2,91.4],[413.6,88.2],[416.1,85.7],[418.4,89.6],[420.7,86.3],[422.9,83.4],[385.8,92.6],[388.1,89.2],[384.1,86.3],[386.7,83.1],[390.4,86.9],[393.9,84.2],[396.6,80.9],[399.2,83.6],[402.8,80.7],[405.3,77.2],[408.1,80.4],[410.7,76.8],[413.2,79.3],[416.3,77.4],[419.6,75.1],[421.8,79.8],[424.4,76.2],[392.6,76.4],[389.2,73.8],[396.2,72.1],[400.8,74.6],[404.1,70.3],[409.3,69.1],[413.8,71.4],[417.7,68.2],
[392.3,116.6],[390.8,120.2],[395.4,122.9],[400.3,104.1],[396.2,108.3],[394.1,104.4],[405.2,118.1],[406.4,113.6],[402.1,110.2],[386.3,110.4],[384.2,113.1],[388.4,107.6],[413.1,111.3],[414.6,114.2],[416.8,109.8],[411.4,101.6],[408.6,97.4],
[433.6,76.3],[436.1,78.9],[438.7,81.6],[441.4,79.2],[444.2,76.8],[446.9,73.4],[449.3,77.6],[451.8,80.3],[454.4,74.1],[456.2,78.2],[427.3,72.1],[429.9,69.4],[432.4,73.8],[445.2,83.6],[448.6,85.2],
[426.4,68.3],[427.9,64.6],[428.6,61.8],[429.8,59.2],[430.9,55.7],[429.4,52.3],[428.1,49.6],[427.2,46.3],[426.3,43.8],[425.1,41.2],[426.8,38.6],[428.3,42.4],[429.6,45.8],[430.4,48.1],[431.7,43.7],[432.2,40.9],[433.6,38.2],[430.7,36.1],[428.4,34.7],[427.2,33.4],[425.9,32.6],[424.3,31.3],[423.2,34.6],[421.8,36.9],[420.9,39.2],[419.8,46.4],[419.2,50.6],[421.4,52.8],[422.3,55.9],[423.1,58.4],[424.6,61.2],[432.6,62.8],[434.4,64.9],[436.1,66.2],[434.8,52.4],[436.3,54.7],[438.2,50.1],[437.9,41.6],[440.3,45.2],
[460.4,88.1],[463.2,85.6],[465.7,81.9],[468.1,79.4],[470.3,84.6],[473.1,90.2],[476.2,93.7],[479.4,96.2],[481.8,99.4],[461.7,78.6],[463.9,74.8],[466.4,72.2],[469.1,69.3],[471.6,65.7],[474.3,62.8],[477.2,60.4],[480.1,57.6],[458.2,72.6],[456.1,67.8],[462.2,64.4],[465.4,59.1],[452.1,56.4],[459.6,54.8],[467.2,51.6],[473.6,49.3],[478.4,45.2],[481.1,39.6],[446.2,63.8],[450.7,66.2],[454.6,60.3],[442.4,55.8],[444.6,49.2],
[408.2,48.3],[406.1,44.9],[404.3,42.6],[402.4,39.8],[400.2,38.1],[404.7,35.3],[407.3,37.4],[410.4,36.2],[412.6,40.3],[414.1,42.4],[416.7,44.6],[418.2,40.2],[411.3,55.2],[413.6,62.3],[416.8,58.1],[385.3,70.2],[386.4,66.8],[388.6,63.7],[391.2,61.1],[394.4,58.3],[397.6,56.2],[400.3,55.1],[402.2,50.3],[385.4,42.1],[386.7,39.8],[396.4,64.1],[403.2,60.2],[405.6,58.3]];

const grays = [gray1, gray2, gray3, gray4, gray5, gray6, gray7, gray8];
const gals = [gal1, gal2, gal3, gal4, gal5, gal6, gal7, gal8];
const sfrs = [sfr1, sfr2, sfr3, sfr4, sfr5, sfr6, sfr7, sfr8];

// colour table: position in sqrt(SFR) -> rgb (red at low SFR, black at high)
const cmapStops = [
  [0, [255, 0, 0]], [1.5, [255, 10, 0]], [2, [255, 60, 0]], [3, [255, 130, 0]], [4, [255, 200, 0]],
  [4.7, [255, 255, 0]], [6, [170, 255, 0]], [7, [60, 255, 0]], [8, [0, 255, 40]], [9, [0, 255, 170]],
  [10, [0, 240, 255]], [11, [0, 150, 255]], [12, [0, 60, 255]], [13, [20, 0, 255]], [14, [80, 0, 200]],
  [15, [60, 0, 110]], [16, [0, 0, 0]]
];
function sfrColor(sfr) {
  const s = Math.min(16, Math.sqrt(sfr));
  for (let k = 1; k < cmapStops.length; k++) {
    const [s0, c0] = cmapStops[k - 1], [s1, c1] = cmapStops[k];
    if (s <= s1) {
      const t = (s - s0) / (s1 - s0);
      return `rgb(${c0.map((v, j) => Math.round(v + (c1[j] - v) * t)).join(',')})`;
    }
  }
  return 'rgb(0,0,0)';
}

Chart.defaults.font.family = '"Liberation Sans", Arial, sans-serif';
Chart.defaults.color = '#222';
Chart.defaults.animation = false;

const colLeft = [38, 329, 616, 905];
const rowTop = [14, 297];
const PW = 228, PH = 229, AXW = 40, PT = 4, PR = 4;

// box with inward major/minor ticks on all four sides
const frame = {
  id: 'frame',
  afterDatasetsDraw(chart) {
    const { ctx, chartArea: a, scales: { x, y } } = chart;
    ctx.save();
    ctx.strokeStyle = '#333';
    ctx.lineWidth = 1;
    ctx.strokeRect(a.left + 0.5, a.top + 0.5, a.width - 1, a.height - 1);
    ctx.beginPath();
    for (let v = Math.ceil(x.min / 5) * 5; v <= x.max; v += 5) {
      const p = Math.round(x.getPixelForValue(v)) + 0.5;
      const len = v % 20 === 0 ? 5 : 2.5;
      ctx.moveTo(p, a.bottom); ctx.lineTo(p, a.bottom - len);
      ctx.moveTo(p, a.top); ctx.lineTo(p, a.top + len);
    }
    for (let v = Math.ceil(y.min / 5) * 5; v <= y.max; v += 5) {
      const p = Math.round(y.getPixelForValue(v)) + 0.5;
      const len = v % 20 === 0 ? 5 : 2.5;
      ctx.moveTo(a.left, p); ctx.lineTo(a.left + len, p);
      ctx.moveTo(a.right, p); ctx.lineTo(a.right - len, p);
    }
    ctx.stroke();
    ctx.restore();
  }
};

function place(left, top, w, h) {
  const div = document.createElement('div');
  div.className = 'box';
  Object.assign(div.style, { left: left + 'px', top: top + 'px', width: w + 'px', height: h + 'px' });
  const cv = document.createElement('canvas');
  div.appendChild(cv);
  document.body.appendChild(div);
  return cv;
}

for (let i = 0; i < 8; i++) {
  const row = Math.floor(i / 4), col = i % 4;
  const axh = row === 1 ? 30 : 24;
  const cv = place(colLeft[col] - AXW, rowTop[row] - PT, AXW + PW + PR, PT + PH + axh);

  const t = document.createElement('div');
  t.className = 'ttl';
  t.textContent = o3Labels[i];
  t.style.left = (colLeft[col] - 1) + 'px';
  t.style.top = (rowTop[row] - (row === 1 ? 14 : 17)) + 'px';
  document.body.appendChild(t);

  const gal = gals[i], sfr = sfrs[i];
  new Chart(cv, {
    type: 'scatter',
    data: {
      datasets: [
        {
          data: gal.map(([x, y]) => ({ x, y })),
          pointRadius: 7.5,
          pointBorderWidth: 1.3,
          pointBorderColor: '#000',
          pointBackgroundColor: (c) => sfrColor(sfr[c.dataIndex]),
          clip: 0
        },
        {
          data: grays[i].map(([x, y]) => ({ x, y })),
          pointRadius: 1.4,
          pointBorderWidth: 0,
          pointBackgroundColor: '#9e9e9e',
          clip: 0
        }
      ]
    },
    options: {
      responsive: true,
      maintainAspectRatio: false,
      events: [],
      layout: { padding: { top: PT, right: PR, left: 0, bottom: 0 } },
      plugins: { legend: { display: false }, tooltip: { enabled: false } },
      scales: {
        x: {
          type: 'linear', min: xMins[i], max: xMins[i] + 100,
          grid: { display: false, drawTicks: false }, border: { display: false },
          afterBuildTicks: (s) => { s.ticks = xTicks[i].map(v => ({ value: v })); },
          afterFit: (s) => { s.height = axh; },
          ticks: { padding: 5, font: { size: 11 }, maxRotation: 0, autoSkip: false },
          title: { display: row === 1, text: 'Mpc', font: { size: 11 }, padding: 0 }
        },
        y: {
          type: 'linear', min: yMins[i], max: yMins[i] + 100,
          grid: { display: false, drawTicks: false }, border: { display: false },
          afterBuildTicks: (s) => { s.ticks = yTicks[i].map(v => ({ value: v })); },
          afterFit: (s) => { s.width = AXW; },
          ticks: { padding: 5, font: { size: 11 }, autoSkip: false },
          title: { display: true, text: 'Mpc', font: { size: 11 }, padding: 0 }
        }
      }
    },
    plugins: [frame]
  });
}

// colour bars
const CBW = 15, CBAX = 48;
function barGradient(chart) {
  const a = chart.chartArea;
  if (!a) return '#888';
  const g = chart.ctx.createLinearGradient(0, a.bottom, 0, a.top);
  cmapStops.forEach(([s, c]) => g.addColorStop(s / 16, `rgb(${c.join(',')})`));
  return g;
}
for (let row = 0; row < 2; row++) {
  const cv = place(1139, rowTop[row] - PT, CBW + CBAX, PT + PH);
  new Chart(cv, {
    type: 'bar',
    data: {
      labels: ['SFR'],
      datasets: [{
        data: [[0, 16]],
        backgroundColor: (c) => barGradient(c.chart),
        borderColor: '#000', borderWidth: 1, borderSkipped: false,
        barPercentage: 1, categoryPercentage: 1
      }]
    },
    options: {
      responsive: true,
      maintainAspectRatio: false,
      events: [],
      layout: { padding: { top: PT, right: 0, left: 0, bottom: 0 } },
      plugins: { legend: { display: false }, tooltip: { enabled: false } },
      scales: {
        x: { display: false },
        y: {
          position: 'right', min: 0, max: 16, z: 1,
          afterBuildTicks: (s) => { s.ticks = sfrTicks.map(v => ({ value: Math.sqrt(v) })); },
          afterFit: (s) => { s.width = CBAX; },
          grid: { drawTicks: false, color: 'rgba(0,0,0,0.55)', lineWidth: 1 },
          border: { display: false },
          ticks: { padding: 3, font: { size: 13 }, callback: (v) => Math.round(v * v) },
          title: { display: true, text: 'SFR[M\u2299/yr]', font: { size: 14 }, padding: 0 }
        }
      }
    }
  });
}
</script>
</body>
</html>
